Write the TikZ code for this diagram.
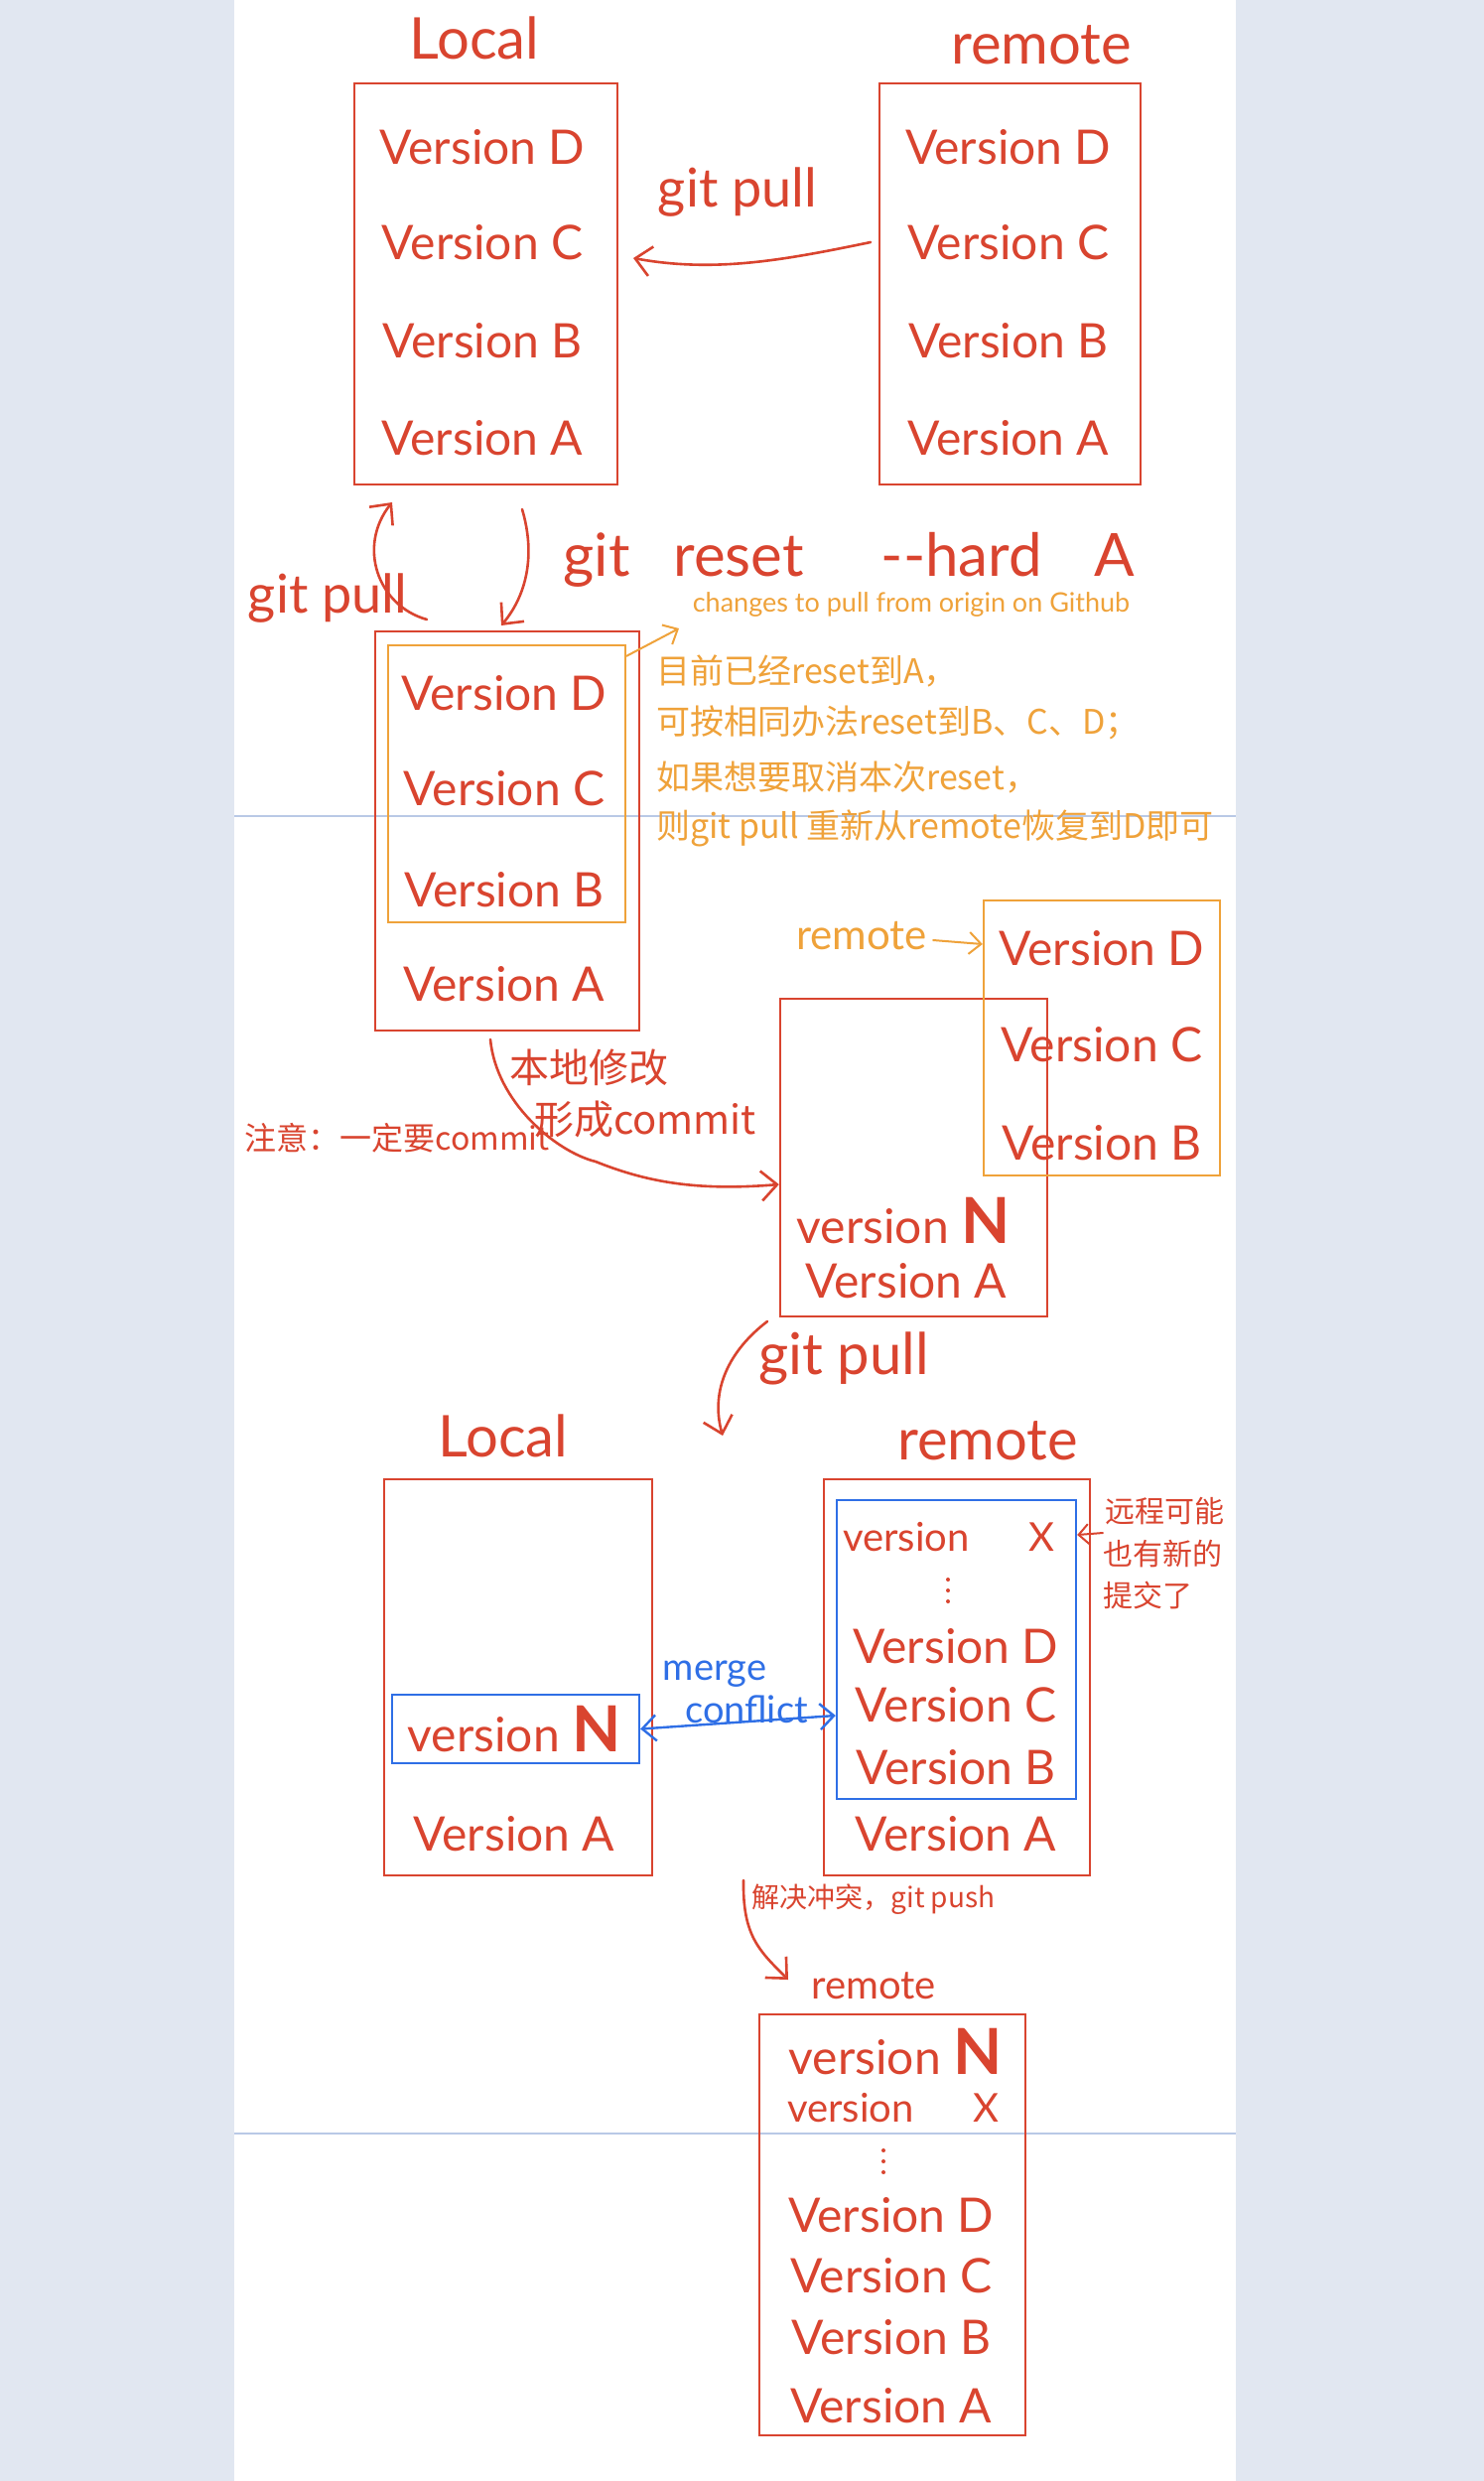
\documentclass[tikz,border=0pt]{standalone}
\usepackage{fontspec}
\setmainfont{Lato}
\newfontfamily\cjk{Noto Sans CJK SC}
\usetikzlibrary{arrows.meta}
\definecolor{hred}{HTML}{D9442F}
\definecolor{horange}{HTML}{EFA23A}
\definecolor{hblue}{HTML}{2F6FE6}
\definecolor{pagebg}{HTML}{E1E7F1}
\definecolor{ruleline}{HTML}{B9C9E6}
\begin{document}
\begin{tikzpicture}[x=1pt,y=-1pt,
  rbox/.style={draw=hred,line width=2.4pt,inner sep=0pt},
  obox/.style={draw=horange,line width=2.4pt,inner sep=0pt},
  bbox/.style={draw=hblue,line width=2.4pt,inner sep=0pt},
  ver/.style={text=hred,font=\fontsize{48}{56}\selectfont,inner sep=0pt},
  smallver/.style={text=hred,font=\fontsize{40}{48}\selectfont,inner sep=0pt},
  ttl/.style={text=hred,font=\fontsize{58}{64}\selectfont,inner sep=0pt},
  lbl/.style={text=hred,font=\fontsize{54}{60}\selectfont,inner sep=0pt},
  cnote/.style={text=hred,font=\fontsize{34}{40}\selectfont\cjk,inner sep=0pt},
  onote/.style={text=horange,font=\fontsize{34}{40}\selectfont\cjk,inner sep=0pt,anchor=west},
  dotmark/.style={fill=hred,circle,inner sep=0pt,minimum size=4pt},
  arr/.style={draw=hred,line width=2.6pt,line cap=round,-{Straight Barb[length=16pt,width=30pt,line width=2.6pt]}},
  oarr/.style={draw=horange,line width=2pt,line cap=round,-{Straight Barb[length=12pt,width=22pt,line width=2pt]}},
  barr/.style={draw=hblue,line width=2.4pt,line cap=round,{Straight Barb[length=14pt,width=26pt,line width=2.4pt]}-{Straight Barb[length=14pt,width=26pt,line width=2.4pt]}}]
\newcommand{\bN}{{\fontsize{64}{64}\selectfont\bfseries N}}
% background
\useasboundingbox (0,0) rectangle (1495,2499);
\fill[pagebg] (0,0) rectangle (1495,2499);
\fill[white] (236,0) rectangle (1245,2499);
\draw[ruleline,line width=1.5pt] (236,822) -- (1245,822);
\draw[ruleline,line width=1.5pt] (236,2149) -- (1245,2149);

% ---- top local / remote
\node[ttl] (tLocal) at (478,38) {Local};
\node[ttl] (tRemote) at (1049,45) {remote};
\node[rbox,minimum width=265pt,minimum height=404pt] (L1) at (489.5,286) {};
\node[rbox,minimum width=263pt,minimum height=404pt] (R1) at (1017.5,286) {};
\node[ver] (L1d) at (486,148) {Version D};
\node[ver] (L1c) at (486,244) {Version C};
\node[ver] (L1b) at (486,343) {Version B};
\node[ver] (L1a) at (486,441) {Version A};
\node[ver] (R1d) at (1016,148) {Version D};
\node[ver] (R1c) at (1016,244) {Version C};
\node[ver] (R1b) at (1016,343) {Version B};
\node[ver] (R1a) at (1016,441) {Version A};
\coordinate (p1s) at (877,244);
\coordinate (p1e) at (638,260);
\draw[arr] (p1s) .. controls (790,262) and (720,275) .. (p1e);
\node[lbl] (lPull1) at (743,194) {git pull};

% ---- reset arrows
\coordinate (r1s) at (526,513);
\coordinate (r1e) at (505,630);
\draw[arr] (r1s) .. controls (540,560) and (530,600) .. (r1e);
\node[lbl,font=\fontsize{60}{66}\selectfont] (lReset) at (855,564) {git\hspace{44pt}reset\hspace{78pt}-{}-hard\hspace{52pt}A};
\coordinate (u1s) at (430,624);
\coordinate (u1e) at (395,506);
\draw[arr] (u1s) .. controls (380,610) and (360,550) .. (u1e);
\node[lbl] (lPull2) at (330,603) {git pull};

% ---- middle box
\node[rbox,minimum width=266pt,minimum height=402pt] (M) at (511,837) {};
\node[obox,minimum width=239pt,minimum height=279pt] (Mo) at (510.5,789.5) {};
\node[ver] (Md) at (508,698) {Version D};
\node[ver] (Mc) at (508,794) {Version C};
\node[ver] (Mb) at (508,896) {Version B};
\node[ver] (Ma) at (508,991) {Version A};
\coordinate (o1e) at (684,633);
\draw[oarr] (Mo.north east) ++(0,12) -- (o1e);
\node[text=horange,font=\fontsize{27}{32}\selectfont,inner sep=0pt] (lChanges) at (918,609) {changes to pull from origin on Github};
\node[onote] (n1) at (661,676) {目前已经reset到A，};
\node[onote] (n2) at (661,728) {可按相同办法reset到B、C、D；};
\node[onote] (n3) at (661,783) {如果想要取消本次reset，};
\node[onote] (n4) at (661,834) {则git pull 重新从remote恢复到D即可};

% ---- box with version N
\node[rbox,minimum width=269pt,minimum height=320pt] (NB) at (920.5,1166) {};
\node[obox,minimum width=238pt,minimum height=277pt] (RO) at (1110,1045.5) {};
\node[ver] (ROd) at (1110,955) {Version D};
\node[ver] (ROc) at (1110,1052) {Version C};
\node[ver] (ROb) at (1110,1151) {Version B};
\node[ver] (NBn) at (910,1230) {version \bN};
\node[ver] (NBa) at (913,1290) {Version A};
\node[text=horange,font=\fontsize{42}{48}\selectfont,inner sep=0pt] (lRemO) at (868,943) {remote};
\draw[oarr] (lRemO.east) ++(6,4) -- (RO.west |- 0,951);
\coordinate (c1s) at (494,1047);
\draw[arr] (c1s) .. controls (500,1110) and (560,1160) .. (600,1170)
   .. controls (650,1190) and (700,1200) .. (NB.west |- 0,1193);
\node[cnote,font=\fontsize{40}{46}\selectfont\cjk] (lLocal) at (593,1075) {本地修改};
\node[cnote,font=\fontsize{40}{46}\selectfont\cjk] (lCommit) at (650,1127) {形成commit};
\node[cnote,font=\fontsize{32}{38}\selectfont\cjk] (lNote) at (400,1146) {注意：一定要commit};

% ---- git pull 2
\coordinate (g2s) at (773,1331);
\coordinate (g2e) at (728,1446);
\draw[arr] (g2s) .. controls (735,1360) and (715,1400) .. (g2e);
\node[lbl,font=\fontsize{58}{64}\selectfont] (lPull3) at (850,1368) {git pull};

% ---- bottom local
\node[ttl] (tLocal2) at (507,1446) {Local};
\node[rbox,minimum width=270pt,minimum height=399pt] (L2) at (522,1689.5) {};
\node[bbox,minimum width=249pt,minimum height=69pt] (L2b) at (519.5,1741.5) {};
\node[ver] (L2n) at (518,1742) {version \bN};
\node[ver] (L2a) at (518,1847) {Version A};

% ---- bottom remote
\node[ttl] (tRemote2) at (995,1451) {remote};
\node[rbox,minimum width=268pt,minimum height=399pt] (R2) at (964,1689.5) {};
\node[bbox,minimum width=241pt,minimum height=301pt] (R2b) at (963.5,1661.5) {};
\node[smallver] (R2x) at (956,1548) {version\hspace{60pt}X};
\node[dotmark] (R2dot1) at (955,1591) {};
\node[dotmark] (R2dot2) at (955,1602) {};
\node[dotmark] (R2dot3) at (955,1613) {};
\node[ver] (R2d) at (963,1658) {Version D};
\node[ver] (R2c) at (963,1717) {Version C};
\node[ver] (R2bb) at (963,1780) {Version B};
\node[ver] (R2a) at (963,1847) {Version A};
\node[cnote,font=\fontsize{30}{36}\selectfont\cjk,anchor=west] (lRem1) at (1113,1522) {远程可能};
\node[cnote,font=\fontsize{30}{36}\selectfont\cjk,anchor=west] (lRem2) at (1111,1565) {也有新的};
\node[cnote,font=\fontsize{30}{36}\selectfont\cjk,anchor=west] (lRem3) at (1111,1607) {提交了};
\draw[oarr,draw=hred,-{Straight Barb[length=10pt,width=20pt,line width=2pt]}] (lRem1.west) ++(-2,22) -- (R2b.east |- 0,1546);
\draw[barr] (L2b.east) -- (R2b.west |- 0,1728);
\node[text=hblue,font=\fontsize{38}{44}\selectfont,inner sep=0pt] (lMerge) at (720,1686) {merge};
\node[text=hblue,font=\fontsize{38}{44}\selectfont,inner sep=0pt] (lConflict) at (752,1722) {conflict};

% ---- git push
\coordinate (ps) at (749,1894);
\draw[arr] (ps) .. controls (748,1950) and (765,1965) .. (794,1994);
\node[cnote,font=\fontsize{28}{34}\selectfont\cjk] (lPush) at (880,1913) {解决冲突，git push};

% ---- final remote
\node[text=hred,font=\fontsize{40}{46}\selectfont,inner sep=0pt] (tRemote3) at (880,2000) {remote};
\node[rbox,minimum width=268pt,minimum height=424pt] (F) at (899,2241) {};
\node[ver] (Fn) at (902,2067) {version \bN};
\node[smallver] (Fx) at (900,2123) {version\hspace{60pt}X};
\node[dotmark] (Fdot1) at (890,2166) {};
\node[dotmark] (Fdot2) at (890,2177) {};
\node[dotmark] (Fdot3) at (890,2188) {};
\node[ver] (Fd) at (898,2231) {Version D};
\node[ver] (Fc) at (898,2292) {Version C};
\node[ver] (Fb) at (898,2354) {Version B};
\node[ver] (Fa) at (898,2423) {Version A};
\end{tikzpicture}
\end{document}
